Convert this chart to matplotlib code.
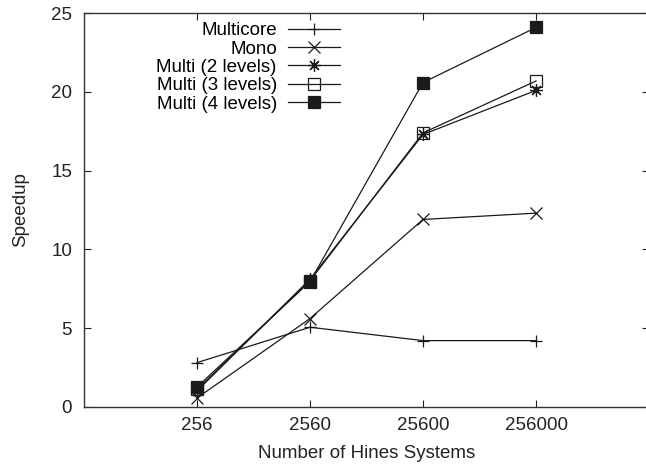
import matplotlib
matplotlib.use('Agg')
import matplotlib.pyplot as plt

plt.rcParams['font.family'] = ['Liberation Sans', 'DejaVu Sans']

systems = [256, 2560, 25600, 256000]
tick_labels = ['256', '2560', '25600', '256000']

multicore = [2.8, 5.05, 4.2, 4.2]
mono = [0.55, 5.6, 11.9, 12.3]
multi2 = [1.0, 8.1, 17.3, 20.1]
multi3 = [1.1, 8.0, 17.4, 20.7]
multi4 = [1.25, 7.95, 20.6, 24.1]

fig = plt.figure(figsize=(6.46, 4.66), dpi=100)
ax = fig.add_axes([84 / 646, 59.3 / 466, 565 / 646, 393.4 / 466])

lw = 0.9
c = '#1a1a1a'
ax.plot(systems, multicore, color=c, lw=lw, marker='+', ms=9, mew=0.9, label='Multicore')
ax.plot(systems, mono, color=c, lw=lw, marker='x', ms=8.5, mew=0.9, label='Mono')
ax.plot(systems, multi2, color=c, lw=lw, marker=(8, 2, 0), ms=9, mew=0.9, label='Multi (2 levels)')
ax.plot(systems, multi3, color=c, lw=lw, marker='s', ms=8.5, mew=0.9, mfc='none', label='Multi (3 levels)')
ax.plot(systems, multi4, color=c, lw=lw, marker='s', ms=8.5, mew=0.9, mfc=c, label='Multi (4 levels)')

ax.set_xscale('log')
ax.set_xlim(25.6, 2560000)
ax.set_ylim(0, 25)
ax.set_xticks(systems)
ax.set_xticklabels(tick_labels)
ax.minorticks_off()
ax.set_yticks([0, 5, 10, 15, 20, 25])

ax.tick_params(direction='in', length=5, width=0.8, top=True, right=True,
               labelsize=13.5, colors='#222222')
ax.tick_params(axis='y', pad=8.5)
ax.tick_params(axis='x', pad=7.5)
for s in ax.spines.values():
    s.set_linewidth(1.0)
    s.set_color('#333333')

ax.set_xlabel('Number of Hines Systems', fontsize=13.5, labelpad=8, color='#222222')
ax.set_ylabel('Speedup', fontsize=13.5, labelpad=16, color='#222222')

leg = ax.legend(loc='upper right', bbox_to_anchor=(0.453, 0.978), frameon=False,
                markerfirst=False, fontsize=13.5, handlelength=2.77,
                labelspacing=0.07, handletextpad=0.6, borderaxespad=0,
                borderpad=0)

fig.savefig('out.png', dpi=100)
